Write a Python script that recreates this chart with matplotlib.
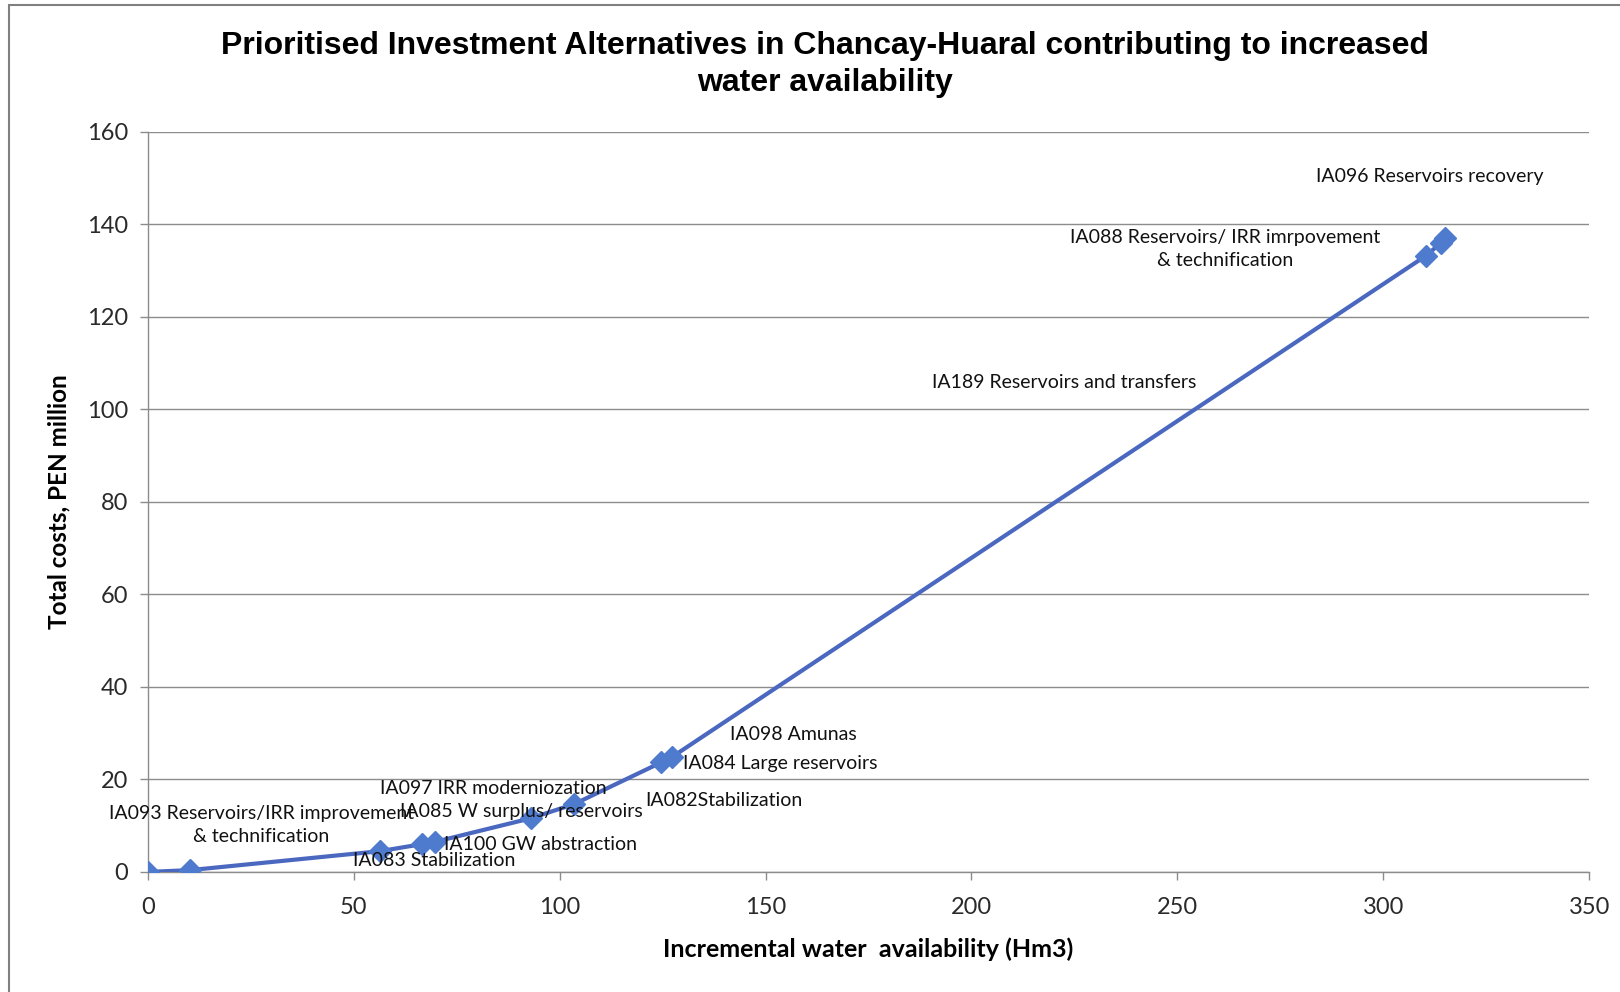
import matplotlib
matplotlib.use("Agg")
import matplotlib.pyplot as plt
from matplotlib.patches import Rectangle

# Data
water = [0, 10.3, 56.4, 66.5, 69.7, 93.0, 103.6, 124.7, 127.2, 310.3, 314.0, 315.0]
cost = [0, 0.4, 4.5, 6.0, 6.5, 11.6, 14.7, 23.7, 24.8, 133.2, 136.0, 137.0]

labels = [
    "IA093 Reservoirs/IRR improvement\n& technification",
    "IA083 Stabilization",
    "IA100 GW abstraction",
    "IA085 W surplus/ reservoirs",
    "IA097 IRR moderniozation",
    "IA082Stabilization",
    "IA084 Large reservoirs",
    "IA098 Amunas",
    "IA189 Reservoirs and transfers",
    "IA088 Reservoirs/ IRR imrpovement\n& technification",
    "IA096 Reservoirs recovery",
]
# label placements (data coords)
label_x = [27.6, 69.5, 95.3, 90.8, 84.0, 140.0, 153.5, 156.8, 222.5, 261.7, 311.3]
label_y = [10.1, 2.5, 6.0, 13.0, 18.1, 15.4, 23.5, 29.7, 105.9, 134.7, 150.4]

xticks = [0, 50, 100, 150, 200, 250, 300, 350]
yticks = [0, 20, 40, 60, 80, 100, 120, 140, 160]

title = "Prioritised Investment Alternatives in Chancay-Huaral contributing to increased\nwater availability"
xlabel = "Incremental water  availability (Hm3)"
ylabel = "Total costs, PEN million"

fig = plt.figure(figsize=(16.2, 9.92), dpi=100)
fig.patch.set_facecolor("white")
fig.patches.append(Rectangle((0.0055, -0.05), 1.1, 1.045, transform=fig.transFigure,
                             fill=False, edgecolor="#808080", linewidth=1.5))

ax = fig.add_axes([0.0912, 0.121, 0.8898, 0.746])
ax.set_xlim(0, 350)
ax.set_ylim(0, 160)
ax.set_xticks(xticks)
ax.set_yticks(yticks)
ax.yaxis.grid(True, color="#8c8c8c", linewidth=1.0)
ax.set_axisbelow(True)
for s in ["top", "right"]:
    ax.spines[s].set_visible(False)
for s in ["left", "bottom"]:
    ax.spines[s].set_color("#8c8c8c")
    ax.spines[s].set_linewidth(1.0)
ax.tick_params(axis="both", colors="#8c8c8c", length=6, width=1.0,
               labelcolor="#2a2a2a", labelsize=17)
ax.tick_params(axis="x", pad=12)
ax.tick_params(axis="y", pad=8)
for t in ax.get_xticklabels() + ax.get_yticklabels():
    t.set_family("Lato")

ax.plot(water, cost, color="#4A68BF", linewidth=3, marker="D", markersize=11,
        markerfacecolor="#4F7BCF", markeredgecolor="#4F7BCF", zorder=3)

for lab, lx, ly in zip(labels, label_x, label_y):
    ax.text(lx, ly, lab, ha="center", va="center", fontsize=14, family="Lato",
            color="#111111", linespacing=1.45, zorder=4)

fig.text(0.509, 0.935, title, ha="center", va="center", fontsize=23,
         fontweight="bold", family="Liberation Sans", linespacing=1.32)
ax.set_xlabel(xlabel, fontsize=18, fontweight="bold", family="Lato", labelpad=14)
ax.set_ylabel(ylabel, fontsize=17.5, fontweight="bold", family="Lato", labelpad=12)

fig.savefig("out.png", dpi=100, facecolor="white")
